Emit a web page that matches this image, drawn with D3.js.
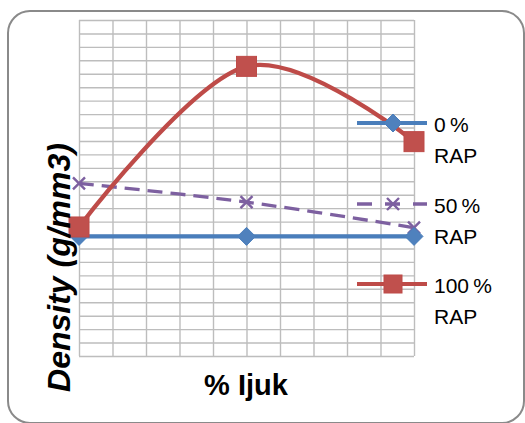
<!DOCTYPE html>
<html>
<head>
<meta charset="utf-8">
<script src="https://cdn.jsdelivr.net/npm/d3@7"></script>
<style>
  body { margin: 0; background: #fff; }
  svg { display: block; font-family: "Liberation Sans", Arial, sans-serif; }
</style>
</head>
<body>
<div id="chart"></div>
<script>
// data
var xValues = [0, 1, 2];
var seriesNames = ['0\u2009%', '50\u2009%', '100\u2009%'];
var rap0 = [8.9, 8.9, 8.9];
var rap50 = [12.85, 11.45, 9.55];
var rap100 = [9.6, 21.55, 15.95];
var yTicks = d3.range(0, 26);
var xTicks = d3.range(0, 11).map(function(i){ return i * 0.2; });

var width = 525, height = 423;
var plot = {left: 79, right: 414, top: 20, bottom: 356};

var svg = d3.select('#chart')
    .append('svg')
    .attr('width', width)
    .attr('height', height);

// outer rounded frame
svg.append('rect')
    .attr('x', 8).attr('y', 11)
    .attr('width', 516).attr('height', 412)
    .attr('rx', 22).attr('ry', 22)
    .attr('fill', '#fff')
    .attr('stroke', '#8a8a8a')
    .attr('stroke-width', 2);

var xScale = d3.scaleLinear().domain([0, 2]).range([plot.left, plot.right]);
var yScale = d3.scaleLinear().domain([0, 25]).range([plot.bottom, plot.top]);

// gridlines
svg.append('g')
    .attr('class', 'grid')
    .attr('transform', 'translate(' + plot.left + ',0)')
    .call(d3.axisLeft(yScale).tickValues(yTicks).tickSize(-(plot.right - plot.left)).tickFormat(''));
svg.append('g')
    .attr('class', 'grid')
    .attr('transform', 'translate(0,' + plot.bottom + ')')
    .call(d3.axisBottom(xScale).tickValues(xTicks).tickSize(-(plot.bottom - plot.top)).tickFormat(''));
svg.selectAll('.grid .domain').remove();
svg.selectAll('.grid line')
    .attr('stroke', '#bdbdbd')
    .attr('stroke-width', 1.4);

var line = d3.line()
    .x(function(d, i){ return xScale(xValues[i]); })
    .y(function(d){ return yScale(d); })
    .curve(d3.curveCardinal.tension(0));

var colors = {blue: '#4a7ebb', purple: '#7d60a0', red: '#be4b48'};
var diamond = 'M0,-9L9,0L0,9L-9,0Z';

function drawX(g, cx, cy){
    g.append('path')
        .attr('d', 'M' + (cx-6) + ',' + (cy-6) + 'L' + (cx+6) + ',' + (cy+6) +
                   'M' + (cx+6) + ',' + (cy-6) + 'L' + (cx-6) + ',' + (cy+6))
        .attr('stroke', colors.purple)
        .attr('stroke-width', 2.4)
        .attr('fill', 'none');
}

// 50% RAP
svg.append('path')
    .datum(rap50)
    .attr('d', line)
    .attr('fill', 'none')
    .attr('stroke', colors.purple)
    .attr('stroke-width', 3.3)
    .attr('stroke-dasharray', '15,8');
var gx = svg.append('g');
rap50.forEach(function(d, i){ drawX(gx, xScale(xValues[i]), yScale(d)); });

// 0% RAP
svg.append('path')
    .datum(rap0)
    .attr('d', line)
    .attr('fill', 'none')
    .attr('stroke', colors.blue)
    .attr('stroke-width', 4.2);
svg.selectAll('.dia')
    .data(rap0)
    .enter()
    .append('path')
    .attr('class', 'dia')
    .attr('d', diamond)
    .attr('transform', function(d, i){ return 'translate(' + xScale(xValues[i]) + ',' + yScale(d) + ')'; })
    .attr('fill', '#4f81bd')
    .attr('stroke', colors.blue);

// 100% RAP
svg.append('path')
    .datum(rap100)
    .attr('d', line)
    .attr('fill', 'none')
    .attr('stroke', colors.red)
    .attr('stroke-width', 4.2);
svg.selectAll('.sq')
    .data(rap100)
    .enter()
    .append('rect')
    .attr('class', 'sq')
    .attr('x', function(d, i){ return xScale(xValues[i]) - 10; })
    .attr('y', function(d){ return yScale(d) - 10; })
    .attr('width', 20).attr('height', 20)
    .attr('fill', '#c0504d')
    .attr('stroke', colors.red);

// legend
var lx1 = 357, lx2 = 427, lm = 393, tx = 434;
var legendY = [123, 204, 284];

svg.append('line')
    .attr('x1', lx1).attr('x2', lx2).attr('y1', legendY[0]).attr('y2', legendY[0])
    .attr('stroke', colors.blue).attr('stroke-width', 4.2);
svg.append('path')
    .attr('d', diamond)
    .attr('transform', 'translate(' + lm + ',' + legendY[0] + ')')
    .attr('fill', '#4f81bd').attr('stroke', colors.blue);

svg.append('line')
    .attr('x1', lx1).attr('x2', lx2).attr('y1', legendY[1]).attr('y2', legendY[1])
    .attr('stroke', colors.purple).attr('stroke-width', 3.3)
    .attr('stroke-dasharray', '15,13');
drawX(svg, lm, legendY[1]);

svg.append('line')
    .attr('x1', lx1).attr('x2', lx2).attr('y1', legendY[2]).attr('y2', legendY[2])
    .attr('stroke', colors.red).attr('stroke-width', 4.2);
svg.append('rect')
    .attr('x', lm - 9).attr('y', legendY[2] - 9)
    .attr('width', 18).attr('height', 18)
    .attr('fill', '#c0504d').attr('stroke', colors.red);

var legendText = svg.append('g')
    .attr('font-size', '21px')
    .attr('fill', '#000');
seriesNames.forEach(function(name, i){
    legendText.append('text')
        .attr('x', tx).attr('y', legendY[i] + 8.5)
        .text(name);
    legendText.append('text')
        .attr('x', tx).attr('y', legendY[i] + 40)
        .text('RAP');
});

// axis titles
svg.append('text')
    .attr('x', 246)
    .attr('y', 395)
    .attr('text-anchor', 'middle')
    .attr('font-size', '29px')
    .attr('font-weight', 'bold')
    .text('% Ijuk');

svg.append('text')
    .attr('transform', 'translate(70,267.5) rotate(-90)')
    .attr('text-anchor', 'middle')
    .attr('font-size', '32px')
    .attr('font-weight', 'bold')
    .attr('font-style', 'italic')
    .text('Density (g/mm3)');
</script>
</body>
</html>
